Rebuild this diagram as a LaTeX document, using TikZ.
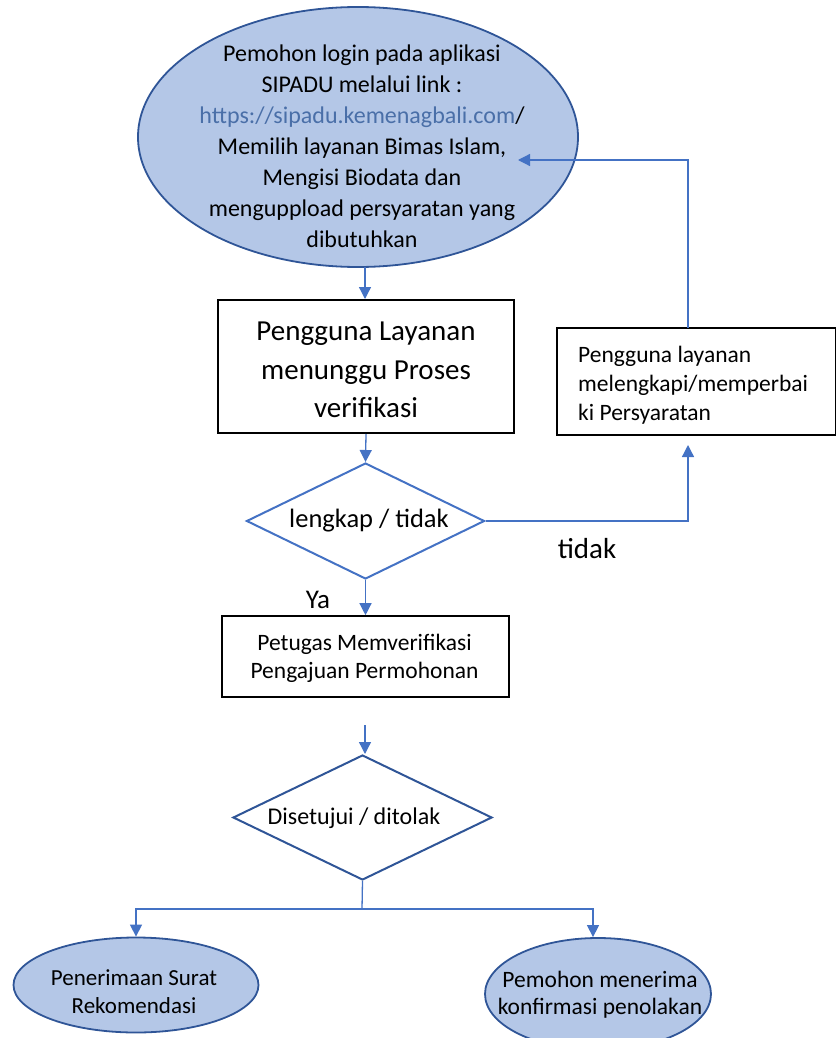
\documentclass[tikz,border=0pt]{standalone}
\usepackage{fontspec}
\setmainfont{Carlito}
\usetikzlibrary{shapes.geometric,arrows.meta}
\definecolor{lineblue}{HTML}{4472C4}
\definecolor{darkblue}{HTML}{2F5597}
\definecolor{paleblue}{HTML}{B4C7E7}
\definecolor{linkblue}{HTML}{4A6FA8}
\tikzset{
  x=1pt, y=-1pt,
  flow/.style={draw=lineblue, line width=1.3pt, -{Triangle[length=12pt,width=12pt]}},
  plain/.style={draw=lineblue, line width=1.3pt},
  oval/.style={ellipse, draw=darkblue, line width=1.8pt, fill=paleblue, inner sep=0pt},
  stepbox/.style={rectangle, draw=black, line width=2pt, inner sep=0pt},
  decision/.style={diamond, draw=#1, line width=2pt, inner sep=0pt, aspect=2.05},
  txt/.style={align=center, inner sep=0pt}
}
\begin{document}
\begin{tikzpicture}
\useasboundingbox (0,0) rectangle (835,1038);

% start of the procedure
\node[oval, minimum width=440, minimum height=260] (start) at (358,137) {};
\node[txt, font=\fontsize{24}{31}\selectfont] (starttxt) at (362,146)
  {Pemohon login pada aplikasi\\
   SIPADU melalui link :\\
   {\color{linkblue}https://sipadu.kemenagbali.com}/\\
   Memilih layanan Bimas Islam,\\
   Mengisi Biodata dan\\
   menguppload persyaratan yang\\
   dibutuhkan};

% waiting for verification
\node[stepbox, minimum width=296, minimum height=133] (wait) at (366,366.5) {};
\node[txt, font=\fontsize{29}{38.5}\selectfont] (waittxt) at (366,370)
  {Pengguna Layanan\\ menunggu Proses\\ verifikasi};

% completeness check
\node[decision=lineblue, minimum width=238, minimum height=116] (check) at (365.5,521) {};
\node[txt, font=\fontsize{26.5}{30}\selectfont] (checktxt) at (369,521) {lengkap / tidak};

% fixing requirements
\node[stepbox, minimum width=279, minimum height=107] (fix) at (696,381) {};
\node[txt, align=left, anchor=west, font=\fontsize{23.5}{29}\selectfont] (fixtxt) at (578,385)
  {Pengguna layanan\\ melengkapi/memperbai\\ ki Persyaratan};

% officer verification
\node[stepbox, line width=1.6pt, minimum width=287, minimum height=81] (officer) at (365.5,656.5) {};
\node[txt, font=\fontsize{23.5}{28}\selectfont] (officertxt) at (364.5,658)
  {Petugas Memverifikasi\\ Pengajuan Permohonan};

% approval decision
\node[decision=darkblue, minimum width=259, minimum height=125] (approve) at (362.5,817.5) {};
\node[txt, font=\fontsize{24}{28}\selectfont] (approvetxt) at (354,818) {Disetujui / ditolak};

% outcomes
\node[oval, minimum width=245, minimum height=95] (accept) at (136,985) {};
\node[txt, font=\fontsize{23}{28}\selectfont] (accepttxt) at (134,992)
  {Penerimaan Surat\\ Rekomendasi};
\node[oval, minimum width=226, minimum height=112] (reject) at (598,994) {};
\node[txt, font=\fontsize{23.5}{27}\selectfont] (rejecttxt) at (600,995)
  {Pemohon menerima\\ konfirmasi penolakan};

% edge labels
\node[txt, font=\fontsize{29}{32}\selectfont] (nolabel) at (587,549) {tidak};
\node[txt, font=\fontsize{27}{30}\selectfont] (yalabel) at (318,600) {Ya};

% helper points
\coordinate (startout) at (365,267);
\coordinate (fixin) at (688,445);
\coordinate (fixout) at (688,328);
\coordinate (backin) at (518,160);
\coordinate (gap) at (365,725);
\coordinate (split) at (362,909);

% connectors
\draw[flow] (startout) -- (startout |- wait.north);
\draw[flow] (wait.south) -- (check.north);
\draw[flow] (check.east) -| (fixin);
\draw[flow] (fixout) |- (backin);
\draw[flow] (check.south) -- (officer.north);
\draw[flow] (gap) -- (gap |- approve.north);
\draw[plain] (approve.south) -- (split);
\draw[flow] (split) -| (accept.north);
\draw[flow] (split) -| ([xshift=-5pt]reject.north);
\end{tikzpicture}
\end{document}
